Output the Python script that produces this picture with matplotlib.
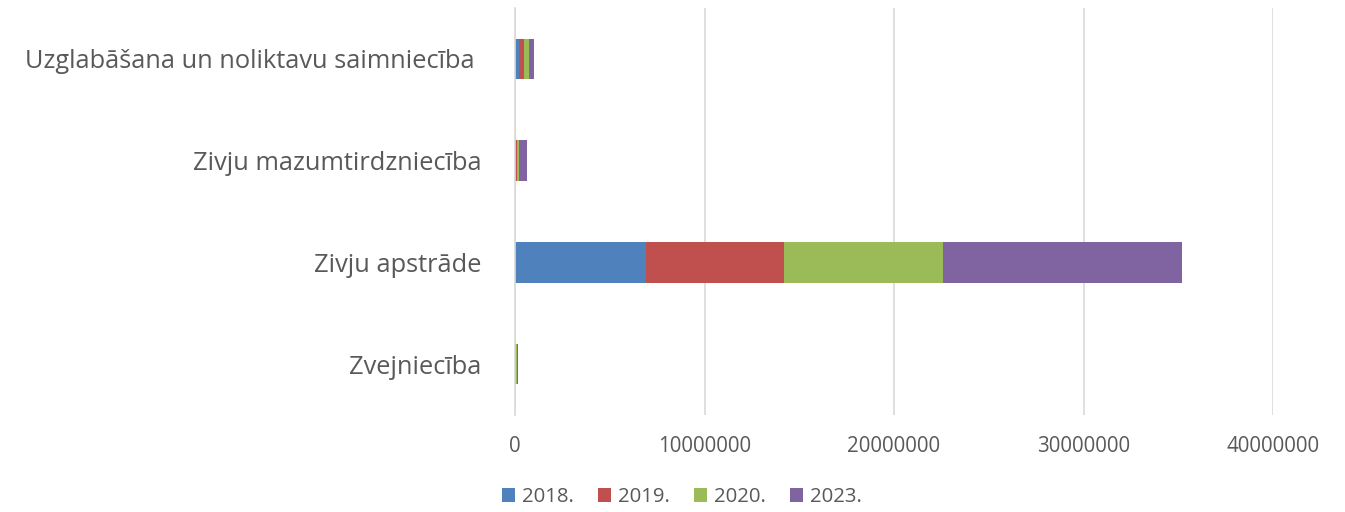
import matplotlib.pyplot as plt
import numpy as np

plt.rcParams['font.family'] = ['Open Sans', 'DejaVu Sans']

# nozares (no apakšas uz augšu)
categories = ['Zvejniecība', 'Zivju apstrāde', 'Zivju mazumtirdzniecība',
              'Uzglabāšana un noliktavu saimniecība ']
years = ['2018.', '2019.', '2020.', '2023.']

v2018 = [30000, 6900000, 30000, 230000]
v2019 = [40000, 7300000, 90000, 230000]
v2020 = [50000, 8400000, 70000, 260000]
v2023 = [40000, 12600000, 450000, 260000]

colors = ['#4F81BD', '#C0504D', '#9BBB59', '#8064A2']

fig = plt.figure(figsize=(13.45, 5.12), dpi=100)
ax = fig.add_axes([515 / 1345, 1 - 415 / 512, (1273 - 515) / 1345, 407 / 512])

y = np.arange(len(categories))
left = np.zeros(len(categories))
for vals, col, lab in zip([v2018, v2019, v2020, v2023], colors, years):
    ax.barh(y, vals, left=left, height=0.4, color=col, label=lab, zorder=3)
    left += np.array(vals)

ax.set_xlim(0, 40000000)
ax.set_ylim(-0.5, len(categories) - 0.5)
ax.set_xticks([0, 10000000, 20000000, 30000000, 40000000])
ax.set_xticklabels(['0', '10000000', '20000000', '30000000', '40000000'])
ax.set_yticks(y)
ax.set_yticklabels(categories)

ax.grid(axis='x', color='#d9d9d9', linewidth=1.2, zorder=0)
for s in ['top', 'right', 'bottom']:
    ax.spines[s].set_visible(False)
ax.spines['left'].set_color('#d9d9d9')
ax.spines['left'].set_linewidth(1.2)
ax.spines['left'].set_zorder(4)

ax.tick_params(axis='x', length=0, pad=15, labelsize=14.8, labelcolor='#595959')
ax.tick_params(axis='y', length=0, pad=24, labelsize=18.3, labelcolor='#595959')

fig.legend(loc='center', bbox_to_anchor=(682 / 1345, 1 - 497 / 512), ncol=4,
           frameon=False, fontsize=14.7, labelcolor='#595959',
           handlelength=0.64, handleheight=0.64, handletextpad=0.34,
           columnspacing=1.18, borderpad=0, borderaxespad=0)

fig.savefig('out.png', dpi=100)
